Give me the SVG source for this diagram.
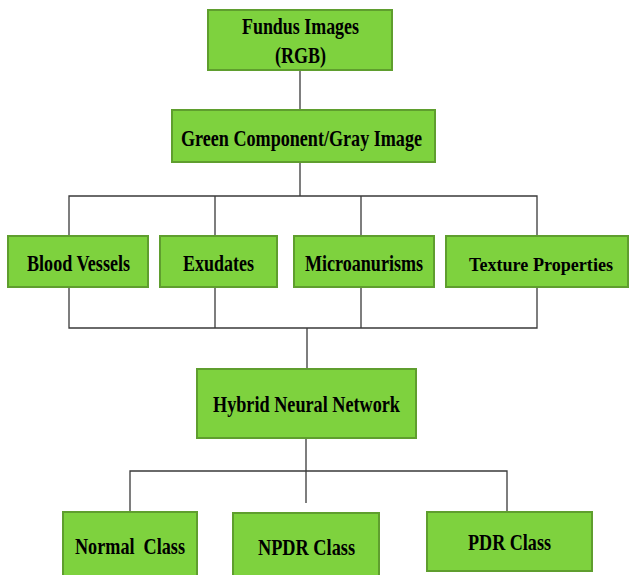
<svg xmlns="http://www.w3.org/2000/svg" width="629" height="575" viewBox="0 0 629 575">
<style>
.box{fill:#7ed23e;stroke:#5f9e2e;stroke-width:2}
.t{font-family:"Liberation Serif","Times New Roman",serif;font-weight:bold;font-size:23px;fill:#000;text-anchor:middle}
.c{fill:none;stroke:#3a3a3a;stroke-width:1.3}
</style>
<rect width="629" height="575" fill="#fff"/>
<g id="connectors">
<path class="c" d="M300,70V110"/>
<path class="c" d="M300,162V196M69,236V196H537V236M215,196V236M361,196V236"/>
<path class="c" d="M69,288V328H537V288M215,288V328M361,288V328M307,328V369"/>
<path class="c" d="M306,438V471M130,512V471H507V512M306,471V503"/>
</g>
<g id="fundus">
<rect class="box" x="208" y="10" width="184" height="60"/>
<text class="t" x="300.5" y="34" textLength="117" lengthAdjust="spacingAndGlyphs">Fundus Images</text>
<text class="t" x="300.5" y="63" textLength="51" lengthAdjust="spacingAndGlyphs">(RGB)</text>
</g>
<g id="green">
<rect class="box" x="172" y="110" width="263" height="52"/>
<text class="t" x="301.5" y="146" textLength="241" lengthAdjust="spacingAndGlyphs">Green Component/Gray Image</text>
</g>
<g id="blood">
<rect class="box" x="8" y="236" width="140" height="51"/>
<text class="t" x="78.5" y="271" textLength="103" lengthAdjust="spacingAndGlyphs">Blood Vessels</text>
</g>
<g id="exudates">
<rect class="box" x="160" y="236" width="117" height="51"/>
<text class="t" x="218.5" y="271" textLength="71" lengthAdjust="spacingAndGlyphs">Exudates</text>
</g>
<g id="micro">
<rect class="box" x="294" y="236" width="140" height="51"/>
<text class="t" x="364" y="271" textLength="118" lengthAdjust="spacingAndGlyphs">Microanurisms</text>
</g>
<g id="texture">
<rect class="box" x="446" y="236" width="182" height="51"/>
<text class="t" x="541" y="271" style="font-size:19px" textLength="144" lengthAdjust="spacingAndGlyphs">Texture Properties</text>
</g>
<g id="hnn">
<rect class="box" x="197" y="369" width="219" height="69"/>
<text class="t" x="306.5" y="412" textLength="187" lengthAdjust="spacingAndGlyphs">Hybrid Neural Network</text>
</g>
<g id="normal">
<rect class="box" x="63" y="512" width="134" height="66"/>
<text class="t" x="130" y="554" textLength="110" lengthAdjust="spacingAndGlyphs" xml:space="preserve">Normal  Class</text>
</g>
<g id="npdr">
<rect class="box" x="233" y="513" width="146" height="65"/>
<text class="t" x="306.5" y="555" textLength="97" lengthAdjust="spacingAndGlyphs">NPDR Class</text>
</g>
<g id="pdr">
<rect class="box" x="427" y="512" width="165" height="59"/>
<text class="t" x="509.5" y="550" textLength="83" lengthAdjust="spacingAndGlyphs">PDR Class</text>
</g>
</svg>
